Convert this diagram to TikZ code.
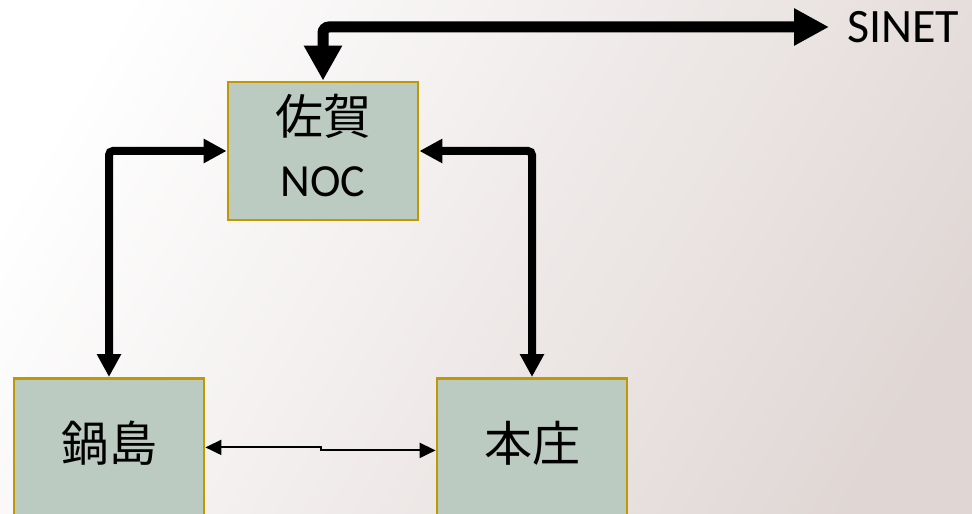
\documentclass[tikz,border=0pt]{standalone}
\usepackage{fontspec}
\setmainfont{Carlito}
\newfontfamily\jp{Noto Sans CJK JP}
\usetikzlibrary{arrows.meta}
\definecolor{boxfill}{RGB}{188,203,194}
\definecolor{boxline}{RGB}{192,152,0}
\definecolor{bgdark}{RGB}{224,215,213}

\begin{document}
\begin{tikzpicture}[x=0.5pt, y=-0.5pt,
	site/.style={draw=boxline, line width=1.4pt, fill=boxfill, minimum width=95pt, inner sep=0pt,
		font=\fontsize{24pt}{28pt}\selectfont\jp},
	link/.style={line width=4pt, rounded corners=2pt,
		{Triangle[length=11.5pt,width=11.5pt]}-{Triangle[length=11.5pt,width=11.5pt]}},
	uplink/.style={line width=5.5pt, rounded corners=3pt,
		{Triangle[length=17.5pt,width=18pt]}-{Triangle[length=17.5pt,width=17.5pt]}},
	thinlink/.style={line width=1pt,
		{Triangle[length=8pt,width=7.5pt]}-{Triangle[length=8pt,width=7.5pt]}}]
	\useasboundingbox (0,0) rectangle (972,513);
	\clip (0,0) rectangle (972,513);
	\shade[left color=white, right color=bgdark, shading angle=60] (-40,-40) rectangle (1012,553);

	% sites
	\node[site, minimum height=69pt, align=center, text depth=6pt] (noc) at (323,151)
		{佐賀\\[3pt]{\fontsize{23pt}{28pt}\rmfamily NOC}};
	\foreach \name/\x/\txt in {nabe/109/鍋島, honjo/532/本庄}
		\node[site, anchor=north, text height=41.5pt, text depth=28.5pt] (\name) at (\x,377) {\txt};
	\node[anchor=west, inner sep=0pt, font=\fontsize{24pt}{28pt}\selectfont] (sinet) at (847,27) {SINET};

	% links
	\draw[uplink] (noc.north) |- ([xshift=-9pt]sinet.west);
	\draw[link] (noc.west) -| (nabe.north);
	\draw[link] (noc.east) -| (honjo.north);
	\draw[thinlink] ([yshift=0.5pt]nabe.east) -- ++(116,0) -- ++(0,3) -- ([yshift=-1pt]honjo.west);
\end{tikzpicture}
\end{document}
